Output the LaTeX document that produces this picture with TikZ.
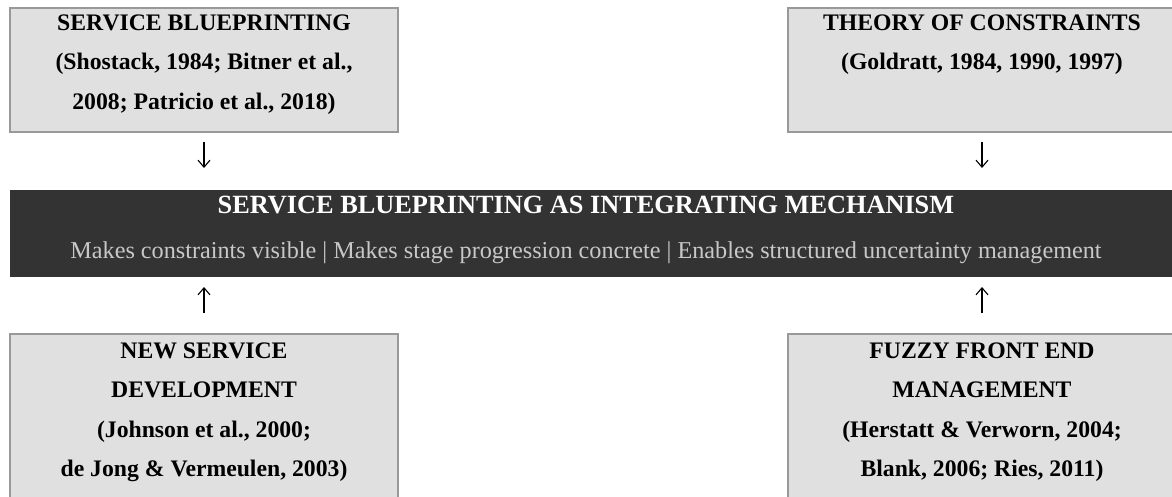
\documentclass[tikz,border=0pt]{standalone}
\usepackage{fontspec}
\setmainfont{Liberation Serif}
\usetikzlibrary{arrows.meta}
\definecolor{boxfill}{HTML}{E0E0E0}
\definecolor{boxline}{HTML}{999999}
\definecolor{bandfill}{HTML}{333333}
\definecolor{subtxt}{HTML}{C8C8C8}
\begin{document}
\begin{tikzpicture}[x=1pt,y=-1pt,
  srcbox/.style={draw=boxline, line width=2pt, fill=boxfill, inner sep=0pt, outer sep=0pt, anchor=north west, minimum width=388pt},
  boxtext/.style={anchor=north, inner sep=0pt, align=center, font=\fontsize{23.7}{39.5}\selectfont\bfseries},
  arr/.style={-{Straight Barb[length=7pt,width=12pt]}, line width=1.1pt}]
\useasboundingbox (0,0) rectangle (1172,497);
% top boxes
\node[srcbox, minimum height=124pt] (sb) at (10,8) {};
\node[srcbox, minimum height=124pt] (toc) at (788,8) {};
% band
\node[fill=bandfill, inner sep=0pt, outer sep=0pt, anchor=north west, minimum width=1166pt, minimum height=87pt] (band) at (10,190) {};
% bottom boxes
\node[srcbox, minimum height=200pt] (nsd) at (10,334) {};
\node[srcbox, minimum height=200pt] (ffe) at (788,334) {};
% texts
\node[boxtext] (sbt) at (204,14) {\rule{0pt}{16pt}SERVICE BLUEPRINTING\\(Shostack, 1984; Bitner et al.,\\2008; Patricio et al., 2018)};
\node[boxtext] (toct) at (982,14) {\rule{0pt}{16pt}THEORY OF CONSTRAINTS\\(Goldratt, 1984, 1990, 1997)};
\node[boxtext] (nsdt) at (204,342) {\rule{0pt}{16pt}NEW SERVICE\\DEVELOPMENT\\(Johnson et al., 2000;\\de Jong \& Vermeulen, 2003)};
\node[boxtext] (ffet) at (982,342) {\rule{0pt}{16pt}FUZZY FRONT END\\MANAGEMENT\\(Herstatt \& Verworn, 2004;\\Blank, 2006; Ries, 2011)};
\node[anchor=base, inner sep=0pt, text=white, font=\fontsize{26.3}{30}\selectfont\bfseries] (title) at (586,213) {SERVICE BLUEPRINTING AS INTEGRATING MECHANISM};
\node[anchor=base, inner sep=0pt, text=subtxt, font=\fontsize{24.2}{28}\selectfont] (sub) at (586,258) {Makes constraints visible | Makes stage progression concrete | Enables structured uncertainty management};
% arrows
\draw[arr, shorten <=10pt, shorten >=22pt] (sb.south) -- (sb.south |- band.north);
\draw[arr, shorten <=10pt, shorten >=22pt] (toc.south) -- (toc.south |- band.north);
\draw[arr, shorten <=21pt, shorten >=10pt] (nsd.north) -- (nsd.north |- band.south);
\draw[arr, shorten <=21pt, shorten >=10pt] (ffe.north) -- (ffe.north |- band.south);
\end{tikzpicture}
\end{document}
